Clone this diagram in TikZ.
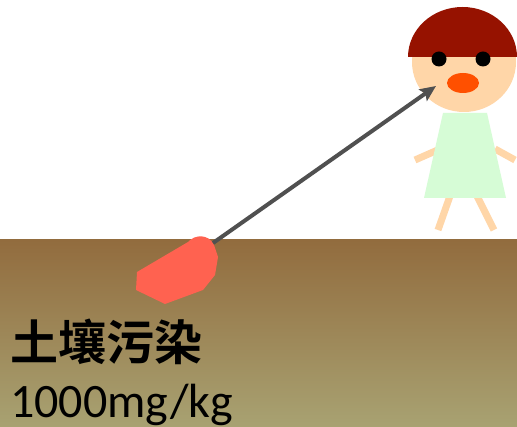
\documentclass[tikz,border=0pt]{standalone}
\usepackage{fontspec}
\setmainfont{Carlito}
\newfontfamily\cjk{Noto Sans CJK SC}[BoldFont={Noto Sans CJK SC Bold}]
\usetikzlibrary{arrows.meta}
\definecolor{groundtop}{RGB}{146,108,62}
\definecolor{groundbot}{RGB}{168,162,114}
\definecolor{blobred}{RGB}{255,98,80}
\definecolor{skin}{RGB}{255,214,168}
\definecolor{hair}{RGB}{150,18,0}
\definecolor{mouth}{RGB}{255,80,0}
\definecolor{dress}{RGB}{214,252,214}
\definecolor{pointer}{RGB}{80,80,80}
\tikzset{
  limb/.style={draw=skin,line width=7pt},
  label/.style={anchor=base west,inner sep=0pt,text=black},
}
\begin{document}
\begin{tikzpicture}[x=1pt,y=-1pt]
\useasboundingbox (0,0) rectangle (517,427);
\fill[white] (0,0) rectangle (517,427);
% ground
\shade[top color=groundtop,bottom color=groundbot] (0,240) rectangle (517,427);
% contaminated patch
\fill[blobred] (137,272) -- (136,290) -- (165,304) -- (203,290) -- (215,275) -- (218,257)
  -- (214,245) .. controls (209,234) and (195,234) .. (188,242) -- cycle;
% person: limbs
\draw[limb] (415,160) -- (440,149);
\draw[limb] (495,149) -- (515,160);
\draw[limb] (450,196) -- (438,230);
\draw[limb] (477,196) -- (494,230);
% body
\fill[dress] (443,113) -- (487,113) -- (506,198) -- (424,198) -- cycle;
% head
\fill[skin] (464,62) ellipse [x radius=52,y radius=50];
\fill[hair] (408,57) arc[start angle=180,end angle=0,x radius=54.5,y radius=-50] -- cycle;
\fill[black] (439,59) circle (7.5);
\fill[black] (483,59) circle (7.5);
\fill[mouth] (463,83) ellipse [x radius=16,y radius=10];
% exposure pathway
\coordinate (src) at (213,243);
\coordinate (dst) at (436,86);
\draw[pointer,line width=4pt,-{Stealth[length=16pt,width=14pt,inset=3pt]}] (src) -- (dst);
% labels
\node[label,font=\cjk\bfseries\fontsize{48}{52}\selectfont] (name) at (10,361) {土壤污染};
\node[label,font=\fontsize{48}{54}\selectfont] (amount) at (10,418) {1000mg/kg};
\end{tikzpicture}
\end{document}
